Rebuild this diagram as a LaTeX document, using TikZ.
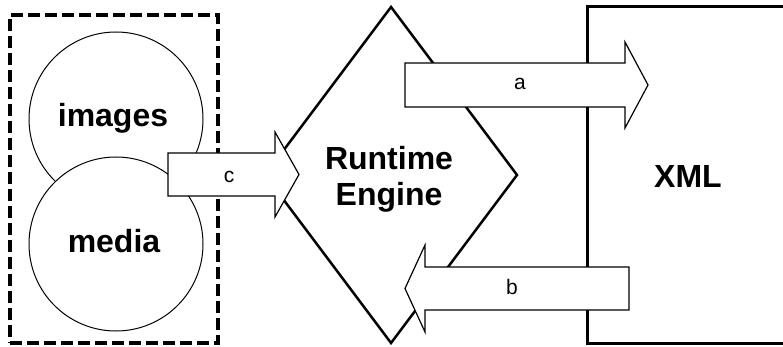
\documentclass[tikz,border=0pt]{standalone}
\usepackage{fontspec}
\setmainfont{Liberation Sans}
\usetikzlibrary{shapes.geometric}
\begin{document}
\begin{tikzpicture}[x=1pt,y=-1pt,
  bigtxt/.style={font=\fontsize{32}{36}\selectfont\bfseries, inner sep=0pt},
  smalltxt/.style={font=\fontsize{21}{24}\selectfont, inner sep=0pt},
  ring/.style={circle, draw, line width=1pt, fill=white, minimum size=174pt, inner sep=0pt, outer sep=0pt},
  blockarrow/.style={draw, fill=white, line width=1.2pt, line join=miter},
  groupbox/.style={draw, line width=4pt, dash pattern=on 12pt off 5pt, inner sep=0pt, outer sep=0pt, anchor=north west}]
\useasboundingbox (0,0) rectangle (783,347);
% media group
\node[ring] (img) at (116,119) {};
\node[ring] (med) at (116,244) {};
\node[groupbox, minimum width=208pt, minimum height=328pt] (grp) at (10,15) {};
\node[bigtxt, anchor=base] (imgt) at (113,127) {images};
\node[bigtxt, anchor=base] (medt) at (114,252) {media};
% runtime engine
\node[diamond, draw, line width=2.5pt, fill=white, minimum width=252pt, minimum height=336pt, inner sep=0pt, outer sep=0pt] (eng) at (391,175) {};
\node[bigtxt, align=center] (engt) at (389,179) {Runtime\\Engine};
% XML
\node[draw, line width=3pt, anchor=north west, minimum width=215pt, minimum height=336pt, inner sep=0pt, outer sep=0pt] (xml) at (587,7) {};
\node[bigtxt] (xmlt) at (688,176) {XML};
% arrows
\coordinate (aS) at (405,85);
\coordinate (aE) at (648,85);
\draw[blockarrow] (aS) ++(0,-22) -- (625,63) -- (625,42) -- (aE) -- (625,128) -- (625,107) -- (405,107) -- cycle;
\node[smalltxt] (alab) at (520,84) {a};
\coordinate (bS) at (629,288.5);
\coordinate (bE) at (405,288.5);
\draw[blockarrow] (bS) ++(0,-21.5) -- (425,267) -- (425,245) -- (bE) -- (425,332) -- (425,310) -- (629,310) -- cycle;
\node[smalltxt] (blab) at (512,287) {b};
\coordinate (cS) at (168,174.5);
\coordinate (cE) at (299,174.5);
\draw[blockarrow] (cS) ++(0,-21.5) -- (275,153) -- (275,132) -- (cE) -- (275,217) -- (275,196) -- (168,196) -- cycle;
\node[smalltxt] (clab) at (229,177) {c};
\end{tikzpicture}
\end{document}
